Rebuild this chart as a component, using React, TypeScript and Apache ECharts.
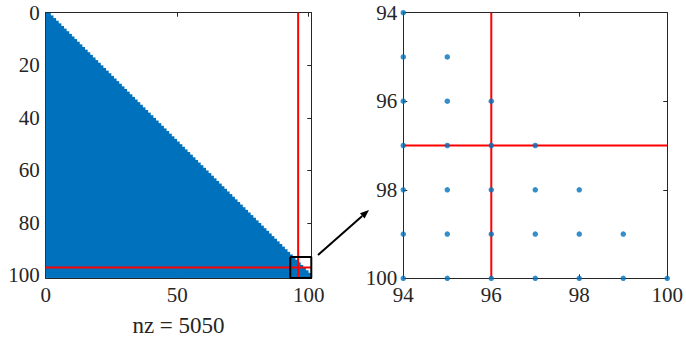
import React, { useEffect, useRef } from "react";
import * as echarts from "echarts";

// Sparse matrix: 100x100 lower-triangular (nz = 5050)
const matrixSize = 100;
const nzLabel = "nz = 5050";
// zoomed window of the matrix
const zoomRange = [94, 100];
// highlighted column / row (red lines)
const redCol = 96;
const redRow = 97;
// box marking the zoom window on the full spy plot
const zoomBox = [93, 101];
// axis limits / ticks
const fullLimits = [0, 101];
const fullXTicks = [0, 50, 100];
const fullYTicks = [0, 20, 40, 60, 80, 100];
const zoomTicks = [94, 96, 98, 100];

// nonzero positions (col, row) of a lower-triangular matrix
const nonzeros: number[][] = [];
for (let i = 1; i <= matrixSize; i++) {
  for (let j = 1; j <= i; j++) nonzeros.push([j, i]);
}
const zoomNonzeros = nonzeros.filter(
  (p) => p[0] >= zoomRange[0] && p[0] <= zoomRange[1] && p[1] >= zoomRange[0] && p[1] <= zoomRange[1]
);

const FONT = "Liberation Serif";
const TXT = "#262626";
const BLUE = "#0072BD";
const RED = "#FF0000";

function makeX(gridIndex: number, min: number, max: number, interval: number, ticks: number[], extra: any = {}) {
  const base = {
    type: "value",
    gridIndex,
    min,
    max,
    interval,
    splitLine: { show: false },
    axisLine: { show: true, onZero: false, lineStyle: { color: TXT, width: 1 } },
    axisTick: { show: true, inside: true, length: 4, lineStyle: { color: TXT, width: 1 } },
  };
  return [
    {
      ...base,
      position: "bottom",
      axisLabel: {
        show: true,
        fontFamily: FONT,
        fontSize: 21,
        color: TXT,
        margin: 6,
        showMinLabel: true,
        showMaxLabel: true,
        formatter: (v: number) => (ticks.includes(v) ? String(v) : ""),
      },
      ...extra,
    },
    { ...base, position: "top", axisLabel: { show: false } },
  ];
}

function makeY(gridIndex: number, min: number, max: number, interval: number, ticks: number[]) {
  const base = {
    type: "value",
    gridIndex,
    min,
    max,
    interval,
    inverse: true,
    splitLine: { show: false },
    axisLine: { show: true, onZero: false, lineStyle: { color: TXT, width: 1 } },
    axisTick: { show: true, inside: true, length: 4, lineStyle: { color: TXT, width: 1 } },
  };
  return [
    {
      ...base,
      position: "left",
      axisLabel: {
        show: true,
        fontFamily: FONT,
        fontSize: 21,
        color: TXT,
        margin: 6,
        formatter: (v: number) => (ticks.includes(v) ? String(v) : ""),
      },
    },
    { ...base, position: "right", axisLabel: { show: false } },
  ];
}

export default function App() {
  const ref = useRef<HTMLDivElement>(null);
  useEffect(() => {
    if (!ref.current) return;
    const chart = echarts.init(ref.current, undefined, { renderer: "svg" });
    const tip = [369, 210];
    const start = [318, 255];
    const dx = tip[0] - start[0];
    const dy = tip[1] - start[1];
    const len = Math.sqrt(dx * dx + dy * dy);
    const ux = dx / len;
    const uy = dy / len;
    const hl = 9;
    const hw = 3.5;
    const bx = tip[0] - ux * hl;
    const by = tip[1] - uy * hl;
    const option: any = {
      animation: false,
      backgroundColor: "#ffffff",
      textStyle: { fontFamily: FONT },
      grid: [
        { left: 45.7, top: 12.7, width: 265.6, height: 265.6 },
        { left: 403.3, top: 12.7, width: 265.7, height: 265.6 },
      ],
      xAxis: [
        ...makeX(0, fullLimits[0], fullLimits[1], 50, fullXTicks, {
          name: nzLabel,
          nameLocation: "middle",
          nameGap: 36,
          nameTextStyle: { fontFamily: FONT, fontSize: 23, color: TXT },
        }),
        ...makeX(1, zoomRange[0], zoomRange[1], 2, zoomTicks),
      ],
      yAxis: [
        ...makeY(0, fullLimits[0], fullLimits[1], 20, fullYTicks),
        ...makeY(1, zoomRange[0], zoomRange[1], 2, zoomTicks),
      ],
      series: [
        {
          type: "scatter",
          xAxisIndex: 0,
          yAxisIndex: 0,
          data: nonzeros,
          symbol: "rect",
          symbolSize: 5,
          itemStyle: { color: BLUE, borderWidth: 0, opacity: 1 },
          silent: true,
          z: 2,
        },
        {
          type: "line",
          xAxisIndex: 0,
          yAxisIndex: 0,
          data: [
            [redCol, fullLimits[0]],
            [redCol, fullLimits[1]],
          ],
          symbol: "none",
          lineStyle: { color: RED, width: 2 },
          z: 3,
        },
        {
          type: "line",
          xAxisIndex: 0,
          yAxisIndex: 0,
          data: [
            [fullLimits[0], redRow],
            [fullLimits[1], redRow],
          ],
          symbol: "none",
          lineStyle: { color: RED, width: 2 },
          z: 3,
        },
        {
          type: "line",
          xAxisIndex: 0,
          yAxisIndex: 0,
          data: [
            [zoomBox[0], zoomBox[0]],
            [zoomBox[1], zoomBox[0]],
            [zoomBox[1], zoomBox[1]],
            [zoomBox[0], zoomBox[1]],
            [zoomBox[0], zoomBox[0]],
          ],
          symbol: "none",
          clip: false,
          lineStyle: { color: "#000000", width: 2 },
          z: 4,
        },
        {
          type: "line",
          xAxisIndex: 2,
          yAxisIndex: 2,
          data: [
            [redCol, zoomRange[0]],
            [redCol, zoomRange[1]],
          ],
          symbol: "none",
          lineStyle: { color: RED, width: 2 },
          z: 3,
        },
        {
          type: "line",
          xAxisIndex: 2,
          yAxisIndex: 2,
          data: [
            [zoomRange[0], redRow],
            [zoomRange[1], redRow],
          ],
          symbol: "none",
          lineStyle: { color: RED, width: 2 },
          z: 3,
        },
        {
          type: "scatter",
          xAxisIndex: 2,
          yAxisIndex: 2,
          data: zoomNonzeros,
          symbol: "circle",
          symbolSize: 5.5,
          clip: false,
          itemStyle: { color: BLUE },
          z: 4,
        },
      ],
      graphic: [
        {
          type: "line",
          shape: { x1: start[0], y1: start[1], x2: bx, y2: by },
          style: { stroke: "#000000", lineWidth: 2 },
        },
        {
          type: "polygon",
          shape: {
            points: [
              [tip[0], tip[1]],
              [bx - uy * hw, by + ux * hw],
              [bx + uy * hw, by - ux * hw],
            ],
          },
          style: { fill: "#000000" },
        },
      ],
    };
    chart.setOption(option);
    return () => chart.dispose();
  }, []);
  return <div ref={ref} style={{ width: 686, height: 342, position: "absolute", left: 0, top: 0 }} />;
}
